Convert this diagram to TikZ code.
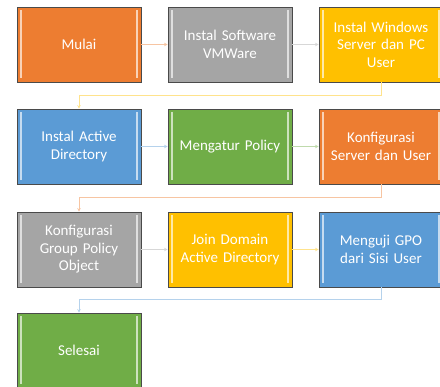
\documentclass[tikz,border=0pt]{standalone}
\usepackage{fontspec}
\setmainfont{Carlito}
\usetikzlibrary{arrows.meta,calc}
\definecolor{cOrange}{HTML}{ED7D31}
\definecolor{cGrey}{HTML}{A5A5A5}
\definecolor{cYellow}{HTML}{FFC000}
\definecolor{cBlue}{HTML}{5B9BD5}
\definecolor{cGreen}{HTML}{70AD47}
\definecolor{cEdge}{HTML}{4A4A4A}
\tikzset{
  stepbox/.style={draw=cEdge, line width=0.9pt, fill=#1, minimum width=124pt, minimum height=75pt,
    text=white, align=center, text width=120pt, inner sep=0pt,
    font=\fontsize{15pt}{17.5pt}\selectfont,
    path picture={
      \draw[line width=1.6pt, #1!35!white]
        ([xshift=4.2pt,yshift=-3.5pt]path picture bounding box.north west) --
        ([xshift=4.2pt,yshift=3.5pt]path picture bounding box.south west);
      \draw[line width=1.6pt, #1!35!white]
        ([xshift=-4.2pt,yshift=-3.5pt]path picture bounding box.north east) --
        ([xshift=-4.2pt,yshift=3.5pt]path picture bounding box.south east);
    }},
  conn/.style={draw=#1!45!white, line width=0.9pt, -{Stealth[length=3.5pt,width=3.5pt]}}
}
\begin{document}
\begin{tikzpicture}[x=1pt,y=-1pt]
\useasboundingbox (0,0) rectangle (440,387);
\clip (0,0) rectangle (440,387);
\node[stepbox=cOrange] (n1) at (79,44.5) {Mulai};
\node[stepbox=cGrey] (n2) at (230,44.5) {Instal Software\\VMWare};
\node[stepbox=cYellow] (n3) at (381,44.5) {Instal Windows\\Server dan PC\\User};
\node[stepbox=cBlue] (n4) at (79,146.5) {Instal Active\\Directory};
\node[stepbox=cGreen] (n5) at (230,146.5) {Mengatur Policy};
\node[stepbox=cOrange] (n6) at (381,146.5) {Konfigurasi\\Server dan User};
\node[stepbox=cGrey] (n7) at (79,249.5) {Konfigurasi\\Group Policy\\Object};
\node[stepbox=cYellow] (n8) at (230,249.5) {Join Domain\\Active Directory};
\node[stepbox=cBlue] (n9) at (381,249.5) {Menguji GPO\\dari Sisi User};
\node[stepbox=cGreen] (n10) at (79,350.5) {Selesai};
\draw[conn=cOrange] (n1.east) -- (n2.west);
\draw[conn=cGrey] (n2.east) -- (n3.west);
\draw[conn=cYellow] (n3.south) -- ++(0,13.5) -| (n4.north);
\draw[conn=cBlue] (n4.east) -- (n5.west);
\draw[conn=cGreen] (n5.east) -- (n6.west);
\draw[conn=cOrange] (n6.south) -- ++(0,13.5) -| (n7.north);
\draw[conn=cGrey] (n7.east) -- (n8.west);
\draw[conn=cYellow] (n8.east) -- (n9.west);
\draw[conn=cBlue] (n9.south) -- ++(0,12.5) -| (n10.north);
\end{tikzpicture}
\end{document}
